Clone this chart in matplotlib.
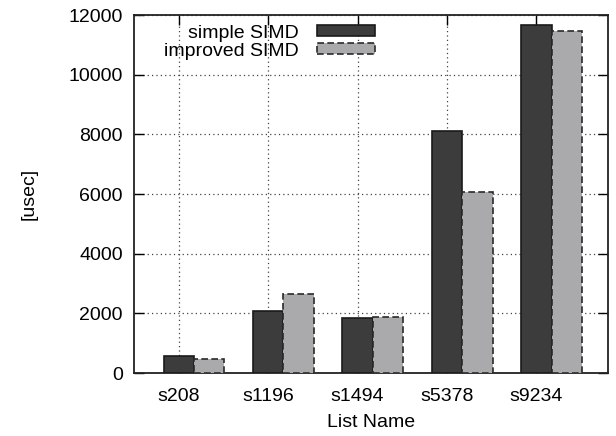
import numpy as np
import matplotlib.pyplot as plt

plt.rcParams['font.family'] = ['Liberation Sans', 'DejaVu Sans']

lists = ["s208", "s1196", "s1494", "s5378", "s9234"]
simple_simd = [570, 2080, 1845, 8100, 11680]
improved_simd = [460, 2650, 1890, 6080, 11480]

fig = plt.figure(figsize=(6.16, 4.36), dpi=100)
ax = fig.add_axes([134 / 616, 1 - 373 / 436, 474 / 616, 358 / 436])

x = np.arange(len(lists))
w = 0.34
ax.bar(x, simple_simd, w, color="#3c3c3c", edgecolor="#1a1a1a",
       linewidth=1.2, label="simple SIMD", zorder=3)
ax.bar(x + w, improved_simd, w, color="#aaaaad", edgecolor="#2a2a2a",
       linewidth=1.2, linestyle=(0, (4, 2)), label="improved SIMD", zorder=3)

ax.set_xlim(-0.5, 4.8)
ax.set_ylim(0, 12000)
ax.set_xticks(x)
ax.set_xticklabels(lists)
ax.set_yticks(np.arange(0, 12001, 2000))
ax.tick_params(axis="both", direction="in", length=7, width=1, labelsize=14,
               top=True, right=True, pad=8)
ax.tick_params(axis="x", pad=11)
ax.grid(True, linestyle=(0, (1, 2.5)), color="#444444", linewidth=0.9, zorder=0)
for s in ax.spines.values():
    s.set_linewidth(1.3)
    s.set_color("#222222")

ax.set_xlabel("List Name", fontsize=14, labelpad=6)
ax.set_ylabel("[usec]", fontsize=14, labelpad=22)

leg = ax.legend(loc="upper right", bbox_to_anchor=(0.525, 0.995), frameon=False,
                fontsize=14, markerfirst=False, handlelength=3.0,
                handleheight=0.5, labelspacing=0.05, borderaxespad=0.0,
                handletextpad=0.9)
for t in leg.get_texts():
    t.set_ha("right")
leg._legend_box.align = "right"

fig.savefig("out.png", dpi=100)
